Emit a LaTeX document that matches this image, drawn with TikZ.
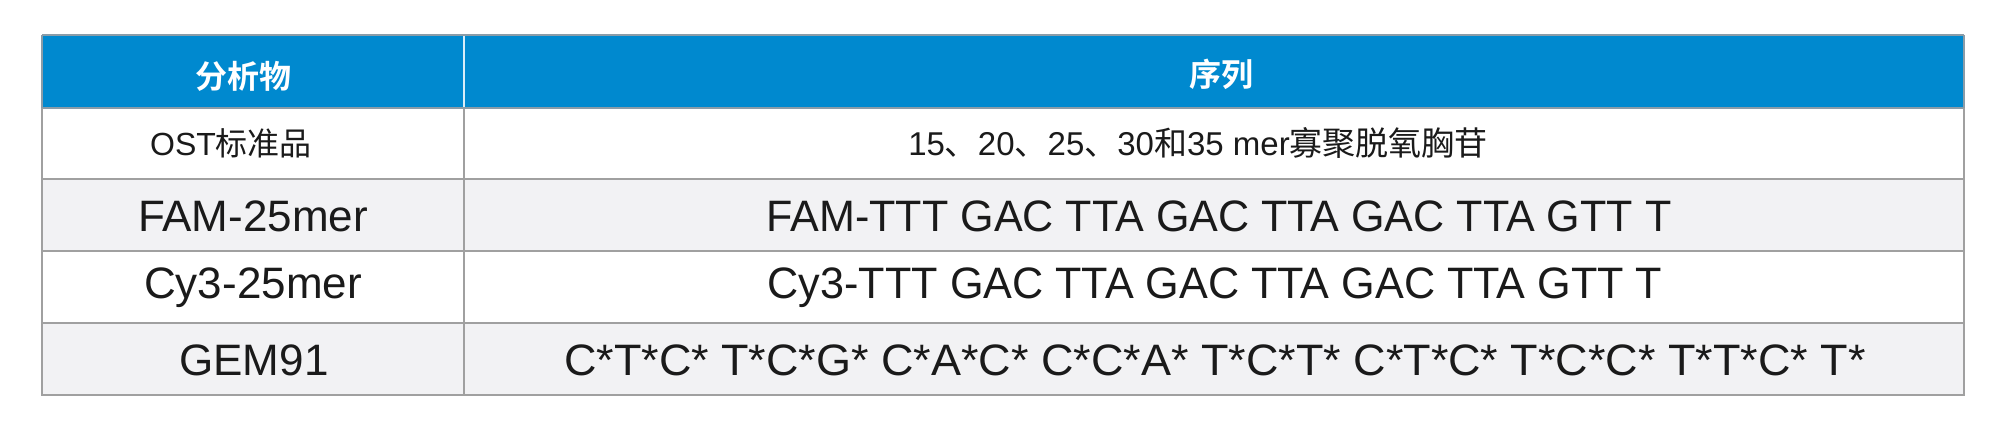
\documentclass[tikz,border=0pt]{standalone}
\usepackage{graphicx}
\usepackage{fontspec}
\setmainfont{Liberation Sans}
\newfontfamily\cjk{Noto Sans CJK SC}
\newfontfamily\cjkb{Noto Sans CJK SC Bold}
\definecolor{hdrblue}{HTML}{0089CF}
\definecolor{rowgray}{HTML}{F2F2F4}
\definecolor{gridgray}{HTML}{A0A0A0}
\definecolor{hdrline}{HTML}{8A9CA8}
\definecolor{txt}{HTML}{1A1A1A}
\begin{document}
\begin{tikzpicture}[x=0.5pt,y=-0.5pt,
  hdrtext/.style={text=white,font=\fontsize{16}{16}\selectfont\cjkb,inner sep=0pt},
  smalltext/.style={text=txt,font=\fontsize{16}{16}\selectfont,inner sep=0pt},
  bigtext/.style={text=txt,font=\fontsize{22}{22}\selectfont,inner sep=0pt},
  grid/.style={draw=gridgray,line width=1pt}]
\useasboundingbox (0,0) rectangle (2000,438);
\fill[white] (0,0) rectangle (2000,438);
% header
\fill[hdrblue] (42,35) rectangle (1964,108);
% rows
\fill[white] (42,108) rectangle (1964,179);
\fill[rowgray] (42,179) rectangle (1964,251);
\fill[white] (42,251) rectangle (1964,323);
\fill[rowgray] (42,323) rectangle (1964,395);
% grid
\draw[grid] (42,179) -- (1964,179);
\draw[grid] (42,251) -- (1964,251);
\draw[grid] (42,323) -- (1964,323);
\draw[grid] (464,108) -- (464,395);
\draw[draw=hdrline,line width=1pt] (42,35) -- (1964,35);
\draw[draw=hdrline,line width=1pt] (42,108) -- (1964,108);
\draw[draw=hdrline,line width=1pt] (42,35) -- (42,108);
\draw[draw=hdrline,line width=1pt] (1964,35) -- (1964,108);
\draw[grid] (42,108) -- (42,395) -- (1964,395) -- (1964,108);
\draw[draw=white!85!hdrblue,line width=0.8pt] (464,36) -- (464,107);
% texts
\node[hdrtext] (h1) at (243,76) {分析物};
\node[hdrtext] (h2) at (1221,74) {序列};
\node[smalltext] (a1) at (231,143) {OST{\cjk 标准品}};
\node[smalltext,font=\fontsize{16.5}{16.5}\selectfont] (s1) at (1198,143) {15{\cjk 、}20{\cjk 、}25{\cjk 、}30{\cjk 和}35 mer{\cjk 寡聚脱氧胸苷}};
\node[bigtext] (a2) at (253,216) {FAM-25mer};
\node[bigtext] (s2) at (1219,216) {\scalebox{0.979}[1]{FAM-TTT GAC TTA GAC TTA GAC TTA GTT T}};
\node[bigtext] (a3) at (253,288) {Cy3-25mer};
\node[bigtext] (s3) at (1215,288) {\scalebox{0.981}[1]{Cy3-TTT GAC TTA GAC TTA GAC TTA GTT T}};
\node[bigtext] (a4) at (254,360) {GEM91};
\node[bigtext] (s4) at (1215,360) {\scalebox{1.022}[1]{C*T*C* T*C*G* C*A*C* C*C*A* T*C*T* C*T*C* T*C*C* T*T*C* T*}};
\end{tikzpicture}
\end{document}
